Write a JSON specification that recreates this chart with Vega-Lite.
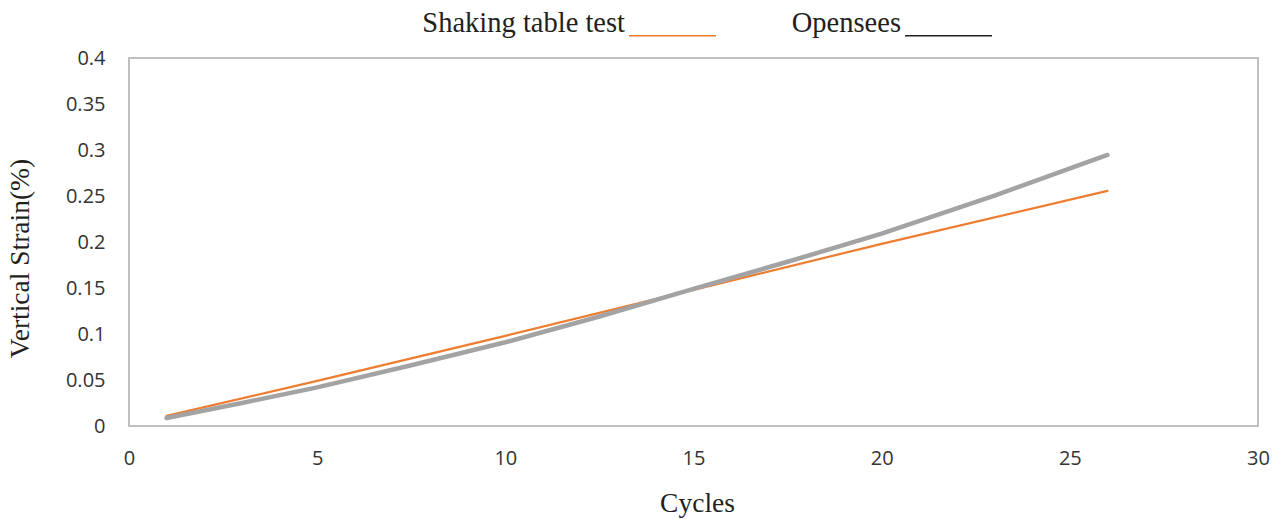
{
  "$schema": "https://vega.github.io/schema/vega-lite/v6.json",
  "width": 1129,
  "height": 368,
  "autosize": "none",
  "padding": {"left": 129, "top": 58, "right": 27, "bottom": 93},
  "background": "white",
  "config": {
    "view": {"stroke": "#BFBFBF", "strokeWidth": 2}
  },
  "data": {
    "values": [
      {"cycle": 1, "strain": 0.011, "series": "Shaking table test"},
      {"cycle": 5, "strain": 0.049, "series": "Shaking table test"},
      {"cycle": 10, "strain": 0.098, "series": "Shaking table test"},
      {"cycle": 15, "strain": 0.148, "series": "Shaking table test"},
      {"cycle": 20, "strain": 0.198, "series": "Shaking table test"},
      {"cycle": 26, "strain": 0.2555, "series": "Shaking table test"},
      {"cycle": 1, "strain": 0.0087, "series": "Opensees"},
      {"cycle": 3, "strain": 0.025, "series": "Opensees"},
      {"cycle": 5, "strain": 0.042, "series": "Opensees"},
      {"cycle": 7.5, "strain": 0.066, "series": "Opensees"},
      {"cycle": 10, "strain": 0.091, "series": "Opensees"},
      {"cycle": 12.5, "strain": 0.119, "series": "Opensees"},
      {"cycle": 15, "strain": 0.149, "series": "Opensees"},
      {"cycle": 17.5, "strain": 0.1785, "series": "Opensees"},
      {"cycle": 20, "strain": 0.209, "series": "Opensees"},
      {"cycle": 23, "strain": 0.2505, "series": "Opensees"},
      {"cycle": 26, "strain": 0.2946, "series": "Opensees"}
    ]
  },
  "encoding": {
    "x": {
      "field": "cycle",
      "type": "quantitative",
      "scale": {"domain": [0, 30], "nice": false},
      "axis": {
        "values": [0, 5, 10, 15, 20, 25, 30],
        "title": "Cycles",
        "titleFont": "Liberation Serif",
        "titleFontSize": 27.5,
        "titleFontWeight": "normal",
        "titleColor": "#231F20",
        "titlePadding": 21,
        "titleX": 568,
        "labelFont": "Open Sans",
        "labelFontSize": 20,
        "labelColor": "#333333",
        "labelPadding": 22,
        "labelFlush": false,
        "labelOverlap": false,
        "ticks": false,
        "domain": false,
        "grid": false
      }
    },
    "y": {
      "field": "strain",
      "type": "quantitative",
      "scale": {"domain": [0, 0.4], "nice": false},
      "axis": {
        "values": [0, 0.05, 0.1, 0.15, 0.2, 0.25, 0.3, 0.35, 0.4],
        "format": ".2~f",
        "title": "Vertical Strain(%)",
        "titleFont": "Liberation Serif",
        "titleFontSize": 27.5,
        "titleFontWeight": "normal",
        "titleColor": "#231F20",
        "titlePadding": 31,
        "titleY": 200,
        "labelFont": "Open Sans",
        "labelFontSize": 20,
        "labelColor": "#333333",
        "labelPadding": 24,
        "labelOverlap": false,
        "labelFlush": false,
        "ticks": false,
        "domain": false,
        "grid": false
      }
    }
  },
  "layer": [
    {
      "transform": [{"filter": "datum.cycle < 0"}],
      "mark": {"type": "line"},
      "encoding": {
        "color": {
          "field": "series",
          "type": "nominal",
          "scale": {"domain": ["Shaking table test", "Opensees"], "range": ["#ED7D31", "#231F20"]},
          "legend": {
            "title": null,
            "orient": "none",
            "legendX": 499,
            "legendY": -80,
            "direction": "horizontal",
            "labelFont": "Liberation Serif",
            "labelFontSize": 28.5,
            "labelColor": "#231F20",
            "labelAlign": "right",
            "labelOffset": -92,
            "labelLimit": 400,
            "labelExpr": "datum.label === 'Opensees' ? 'Opensees\u00a0\u00a0' : datum.label",
            "symbolType": "M -1 0.3 L 1 0.3",
            "symbolSize": 7569,
            "symbolStrokeWidth": 1.5,
            "symbolFillColor": "transparent",
            "columnPadding": 72
          }
        }
      }
    },
    {
      "mark": {"type": "line", "strokeCap": "round"},
      "encoding": {
        "color": {
          "field": "series",
          "type": "nominal",
          "scale": {"domain": ["Shaking table test", "Opensees"], "range": ["#ED7D31", "#A3A3A3"]},
          "legend": null
        },
        "strokeWidth": {
          "field": "series",
          "type": "nominal",
          "scale": {"domain": ["Shaking table test", "Opensees"], "range": [2.2, 4.5]},
          "legend": null
        }
      }
    }
  ],
  "resolve": {"scale": {"color": "independent"}}
}
